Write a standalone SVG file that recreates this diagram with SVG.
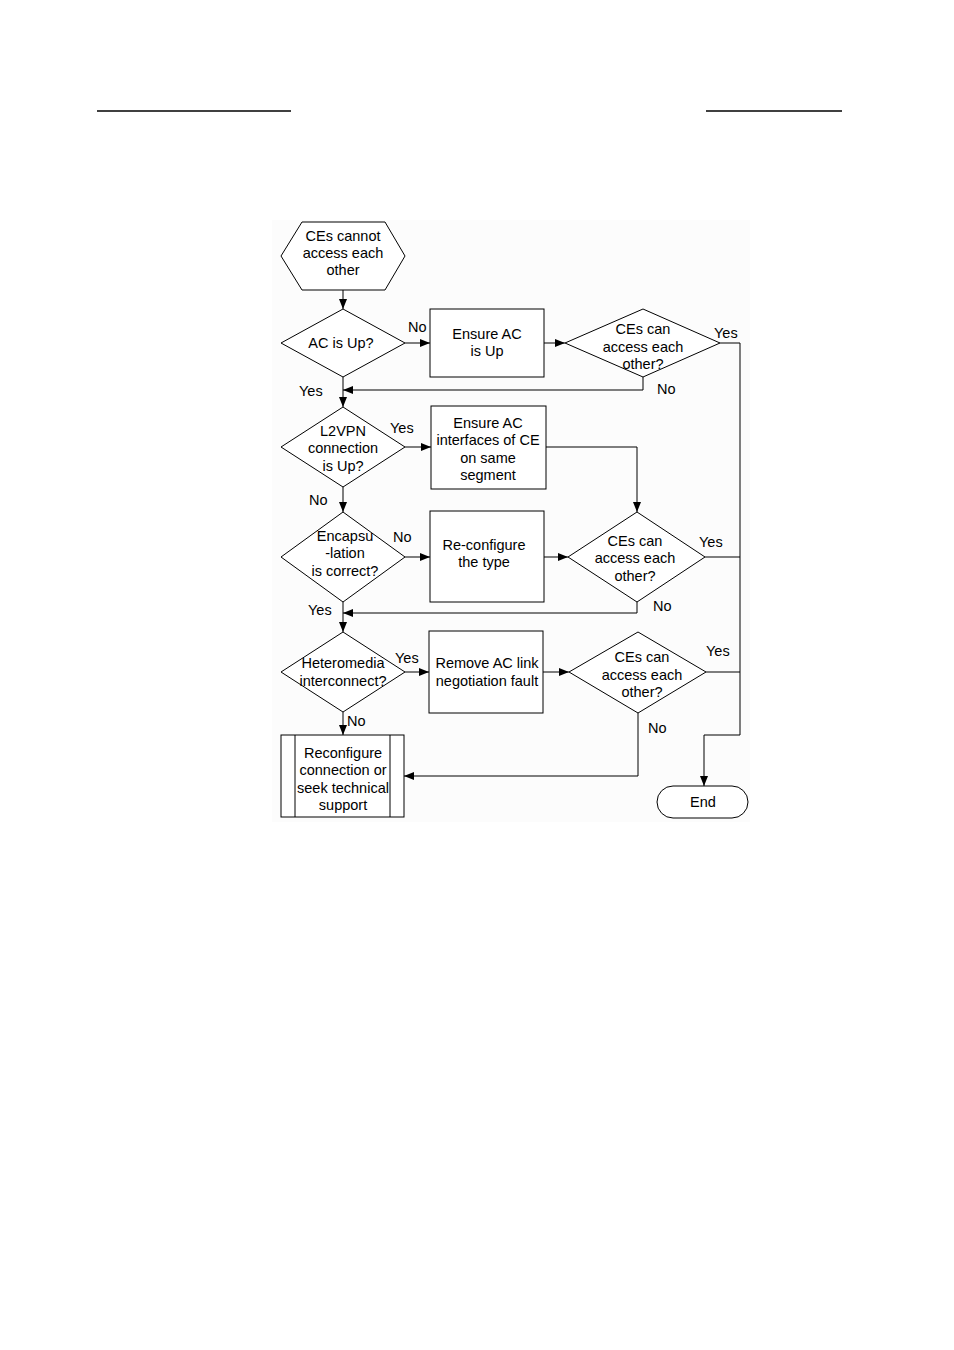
<svg xmlns="http://www.w3.org/2000/svg" width="954" height="1350" viewBox="0 0 954 1350">
<defs>
<marker id="arr" viewBox="0 0 10 8" refX="10" refY="4" markerWidth="10" markerHeight="8" markerUnits="userSpaceOnUse" orient="auto">
<path d="M0,0 L10,4 L0,8 z" fill="#000"/>
</marker>
<style>
.s{fill:#fff;stroke:#000;stroke-width:1}
.c{fill:none;stroke:#000;stroke-width:1}
.a{fill:none;stroke:#000;stroke-width:1;marker-end:url(#arr)}
text{font-family:"Liberation Sans",Arial,sans-serif;font-size:14.5px;fill:#000}
.m{text-anchor:middle}
</style>
</defs>
<rect width="954" height="1350" fill="#fff"/>
<rect x="272" y="220" width="478" height="602" fill="#fcfcfc"/>
<line x1="97" y1="111" x2="291" y2="111" stroke="#000" stroke-width="1.3"/>
<line x1="706" y1="111" x2="842" y2="111" stroke="#000" stroke-width="1.3"/>

<g id="start">
<polygon class="s" points="281,256 302,222 385,222 405,256 385,290 302,290"/>
<text class="m" x="343" y="241">CEs cannot</text>
<text class="m" x="343" y="258">access each</text>
<text class="m" x="343" y="275">other</text>
</g>
<g id="d1">
<polygon class="s" points="281,343 343,309 405,343 343,377"/>
<text class="m" x="341" y="348">AC is Up?</text>
</g>
<g id="b1">
<rect class="s" x="430" y="309" width="114" height="68"/>
<text class="m" x="487" y="339">Ensure AC</text>
<text class="m" x="487" y="356">is Up</text>
</g>
<g id="d2">
<polygon class="s" points="565,343 643,309 720,343 643,377"/>
<text class="m" x="643" y="334">CEs can</text>
<text class="m" x="643" y="352">access each</text>
<text class="m" x="643" y="369">other?</text>
</g>
<g id="d3">
<polygon class="s" points="281,447 343,407 405,447 343,487"/>
<text class="m" x="343" y="436">L2VPN</text>
<text class="m" x="343" y="453">connection</text>
<text class="m" x="343" y="471">is Up?</text>
</g>
<g id="b2">
<rect class="s" x="431" y="406" width="115" height="83"/>
<text class="m" x="488" y="428">Ensure AC</text>
<text class="m" x="488" y="445">interfaces of CE</text>
<text class="m" x="488" y="463">on same</text>
<text class="m" x="488" y="480">segment</text>
</g>
<g id="d4">
<polygon class="s" points="281,557 343,512 405,557 343,602"/>
<text class="m" x="345" y="541">Encapsu</text>
<text class="m" x="345" y="558">-lation</text>
<text class="m" x="345" y="576">is correct?</text>
</g>
<g id="b3">
<rect class="s" x="430" y="511" width="114" height="91"/>
<text class="m" x="484" y="550">Re-configure</text>
<text class="m" x="484" y="567">the type</text>
</g>
<g id="d5">
<polygon class="s" points="568,557 637,512 705,557 637,602"/>
<text class="m" x="635" y="546">CEs can</text>
<text class="m" x="635" y="563">access each</text>
<text class="m" x="635" y="581">other?</text>
</g>
<g id="d6">
<polygon class="s" points="281,672 343,632 405,672 343,712"/>
<text class="m" x="343" y="668">Heteromedia</text>
<text class="m" x="343" y="686">interconnect?</text>
</g>
<g id="b4">
<rect class="s" x="429" y="631" width="114" height="82"/>
<text class="m" x="487" y="668">Remove AC link</text>
<text class="m" x="487" y="686">negotiation fault</text>
</g>
<g id="d7">
<polygon class="s" points="569,672 638,632 706,672 638,713"/>
<text class="m" x="642" y="662">CEs can</text>
<text class="m" x="642" y="680">access each</text>
<text class="m" x="642" y="697">other?</text>
</g>
<g id="b5">
<rect class="s" x="281" y="735" width="123" height="82"/>
<line class="c" x1="295" y1="735" x2="295" y2="817"/>
<line class="c" x1="390" y1="735" x2="390" y2="817"/>
<text class="m" x="343" y="758">Reconfigure</text>
<text class="m" x="343" y="775">connection or</text>
<text class="m" x="343" y="793">seek technical</text>
<text class="m" x="343" y="810">support</text>
</g>
<g id="end">
<rect class="s" x="657" y="786" width="91" height="32" rx="16" ry="16"/>
<text class="m" x="703" y="807">End</text>
</g>

<g id="connectors">
<line class="a" x1="343" y1="290" x2="343" y2="309"/>
<line class="a" x1="405" y1="343" x2="430" y2="343"/>
<line class="a" x1="544" y1="343" x2="565" y2="343"/>
<polyline class="a" points="643,377 643,390 343,390"/>
<line class="a" x1="343" y1="377" x2="343" y2="407"/>
<line class="a" x1="405" y1="447" x2="431" y2="447"/>
<polyline class="a" points="546,447 637,447 637,512"/>
<line class="a" x1="343" y1="487" x2="343" y2="512"/>
<line class="a" x1="405" y1="557" x2="430" y2="557"/>
<line class="a" x1="544" y1="557" x2="568" y2="557"/>
<polyline class="a" points="637,602 637,613 343,613"/>
<line class="a" x1="343" y1="602" x2="343" y2="632"/>
<line class="a" x1="405" y1="672" x2="429" y2="672"/>
<line class="a" x1="543" y1="672" x2="569" y2="672"/>
<line class="a" x1="343" y1="712" x2="343" y2="735"/>
<polyline class="a" points="638,713 638,776 404,776"/>
<polyline class="c" points="720,343 740,343 740,735"/>
<line class="c" x1="705" y1="557" x2="740" y2="557"/>
<line class="c" x1="706" y1="672" x2="740" y2="672"/>
<polyline class="a" points="740,735 704,735 704,786"/>
<text x="408" y="332">No</text>
<text x="714" y="338">Yes</text>
<text x="657" y="394">No</text>
<text x="299" y="396">Yes</text>
<text x="390" y="433">Yes</text>
<text x="309" y="505">No</text>
<text x="393" y="542">No</text>
<text x="699" y="547">Yes</text>
<text x="653" y="611">No</text>
<text x="308" y="615">Yes</text>
<text x="395" y="663">Yes</text>
<text x="706" y="656">Yes</text>
<text x="347" y="726">No</text>
<text x="648" y="733">No</text>
</g>
</svg>
